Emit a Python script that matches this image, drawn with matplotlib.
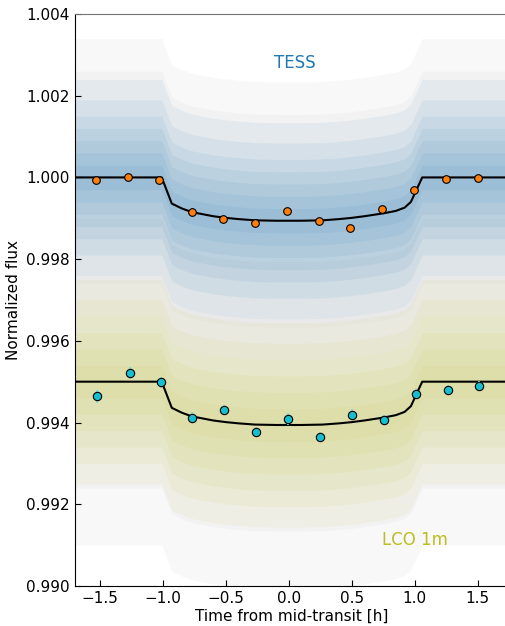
import numpy as np
import matplotlib
matplotlib.use("Agg")
import matplotlib.pyplot as plt

# binned points (time [h], normalized flux)
tess_bin_t = [-1.534, -1.279, -1.028, -0.773, -0.521, -0.267, -0.014, 0.237, 0.489, 0.744, 0.993, 1.250, 1.500]
tess_bin_f = [0.99994, 1.00001, 0.99993, 0.99915, 0.99898, 0.99889, 0.99919, 0.99893, 0.99876, 0.99923, 0.99969, 0.99997, 0.99998]

lco_bin_t = [-1.526, -1.261, -1.017, -0.768, -0.513, -0.261, -0.004, 0.248, 0.500, 0.754, 1.009, 1.261, 1.513]
lco_bin_f = [0.99464, 0.99521, 0.99498, 0.99412, 0.99431, 0.99377, 0.99409, 0.99365, 0.99419, 0.99406, 0.99470, 0.99480, 0.99489]
lco_bin_err = [0.00015, 0.00014, 0.00013, 0.00014, 0.00013, 0.00013, 0.00014, 0.00013, 0.00014, 0.00013, 0.00013, 0.00013, 0.00013]

# transit model, sampled as drawn
model_t = [-1.75, -1.01, -0.93, -0.85, -0.77, -0.60, -0.50, -0.40, -0.27, -0.10, 0.00,
           0.10, 0.27, 0.40, 0.50, 0.60, 0.75, 0.85, 0.92, 0.97, 1.06, 1.75]
model_dip = [0.0, 0.0, -0.00064, -0.00076, -0.00085, -0.00095, -0.00099, -0.00102, -0.00105, -0.00106, -0.00106,
             -0.00106, -0.00105, -0.00102, -0.00099, -0.00095, -0.00088, -0.00082, -0.00074, -0.00060, 0.0, 0.0]
tess_base = 1.000
lco_base = 0.995

# spread of the unbinned points around the model (half-widths)
tess_spread = [0.0003, 0.0006, 0.0009, 0.0012, 0.0015, 0.0019, 0.0024]
lco_spread = [0.0004, 0.0008, 0.0012, 0.0016, 0.0020, 0.0025]
tess_err_spread = [0.0026, 0.0034]
lco_err_spread = [0.0026, 0.0040]

fig = plt.figure(figsize=(5.06, 6.26), dpi=100)
ax = fig.add_axes([0.148, 0.064, 0.858, 0.9136])

tess_model = np.array(model_dip) + tess_base
lco_model = np.array(model_dip) + lco_base

# error bar haze
for w in tess_err_spread:
    ax.fill_between(model_t, tess_model - w, tess_model + w, color='0.82', alpha=0.14, lw=0)
for w in lco_err_spread:
    ax.fill_between(model_t, lco_model - w, lco_model + w, color='0.82', alpha=0.14, lw=0)

# point clouds
for w in tess_spread:
    ax.fill_between(model_t, tess_model - w, tess_model + w, color='tab:blue', alpha=0.07, lw=0)
for w in lco_spread:
    ax.fill_between(model_t, lco_model - w, lco_model + w, color='tab:olive', alpha=0.065, lw=0)

# models
ax.plot(model_t, tess_model, color='k', lw=1.5, zorder=5)
ax.plot(model_t, lco_model, color='k', lw=1.5, zorder=5)

# binned data
ax.plot(tess_bin_t, tess_bin_f, 'o', color='tab:orange', mec='k', mew=0.8, ms=5.5, zorder=6)
ax.errorbar(lco_bin_t, lco_bin_f, yerr=lco_bin_err, fmt='o', color='tab:cyan', mec='k', mew=0.8,
            ms=6, ecolor='#7fdfe8', elinewidth=1.5, capsize=0, zorder=6)

ax.text(0.044, 1.0028, 'TESS', color='tab:blue', fontsize=12, ha='center', va='center')
ax.text(1.006, 0.99113, 'LCO 1m', color='tab:olive', fontsize=12, ha='center', va='center')

ax.set_xlim(-1.7, 1.75)
ax.set_ylim(0.990, 1.004)
ax.set_xticks([-1.5, -1.0, -0.5, 0.0, 0.5, 1.0, 1.5])
ax.set_yticks([0.990, 0.992, 0.994, 0.996, 0.998, 1.000, 1.002, 1.004])
ax.yaxis.set_major_formatter(matplotlib.ticker.FormatStrFormatter('%.3f'))
ax.tick_params(direction='in', labelsize=11, length=4)
ax.spines['top'].set_color('0.45')
ax.set_xlabel('Time from mid-transit [h]', fontsize=11, labelpad=2)
ax.set_ylabel('Normalized flux', fontsize=11)

fig.savefig('out.png', dpi=100)
